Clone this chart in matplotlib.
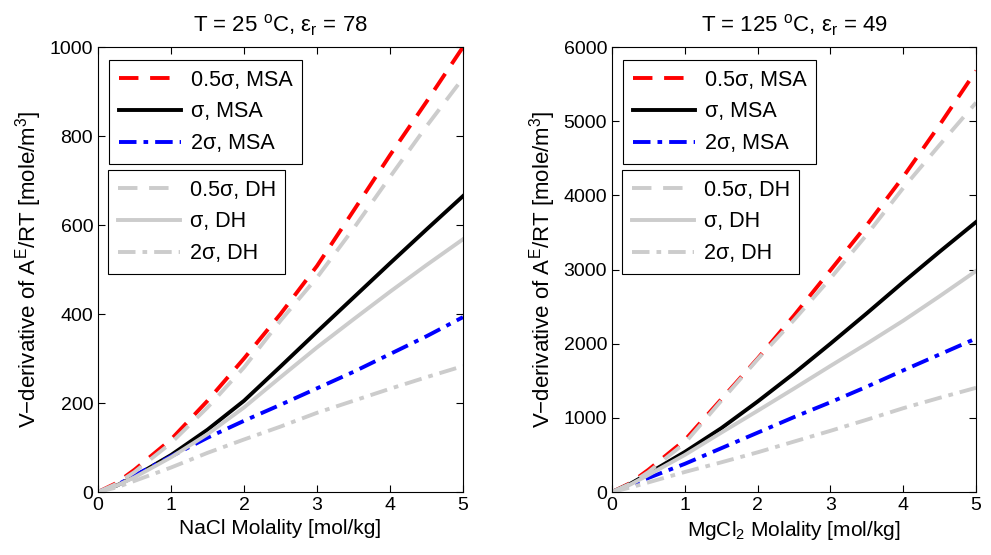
import matplotlib
matplotlib.use('Agg')
import matplotlib.pyplot as plt

plt.rcParams['font.family'] = ['Liberation Sans', 'DejaVu Sans']
plt.rcParams['mathtext.fontset'] = 'custom'
plt.rcParams['mathtext.rm'] = 'Liberation Sans'
plt.rcParams['mathtext.it'] = 'Liberation Sans:italic'
plt.rcParams['font.size'] = 14

# molality grid (mol/kg)
m = [0, 0.25, 0.5, 1, 1.5, 2, 2.5, 3, 3.5, 4, 4.5, 5]

# NaCl, T = 25 C
nacl_half_msa = [0, 20, 50, 118, 205, 300, 400, 508, 632, 757, 877, 1000]
nacl_one_msa = [0, 14, 35, 83, 140, 205, 282, 360, 437, 514, 590, 665]
nacl_two_msa = [0, 15, 37, 80, 122, 160, 196, 233, 270, 310, 350, 393]
nacl_half_dh = [0, 18, 45, 110, 190, 280, 385, 482, 592, 708, 822, 930]
nacl_one_dh = [0, 14, 33, 78, 130, 190, 258, 325, 388, 450, 510, 568]
nacl_two_dh = [0, 10, 25, 55, 88, 118, 147, 178, 205, 232, 258, 283]

# MgCl2, T = 125 C
mg_half_msa = [0, 120, 300, 700, 1250, 1800, 2380, 2990, 3600, 4250, 4950, 5680]
mg_one_msa = [0, 110, 250, 540, 860, 1220, 1600, 2000, 2410, 2830, 3240, 3640]
mg_two_msa = [0, 85, 190, 380, 590, 800, 1010, 1210, 1420, 1640, 1855, 2070]
mg_half_dh = [0, 110, 270, 660, 1230, 1790, 2320, 2880, 3470, 4100, 4680, 5250]
mg_one_dh = [0, 100, 230, 500, 800, 1095, 1395, 1700, 2000, 2310, 2640, 2980]
mg_two_dh = [0, 60, 130, 270, 400, 535, 680, 825, 975, 1130, 1270, 1405]

msa_labels = ['0.5σ, MSA', 'σ, MSA', '2σ, MSA']
dh_labels = ['0.5σ, DH', 'σ, DH', '2σ, DH']

grey = '#cccccc'
dash = (5, 3)
dashdot = (4.5, 1.8, 1.2, 1.8)
lw = 2.8

fig = plt.figure(figsize=(9.91, 5.55), dpi=100)
ax1 = fig.add_axes([0.0989, 0.1135, 0.3683, 0.8018])
ax2 = fig.add_axes([0.6176, 0.1135, 0.3673, 0.8018])

panels = [
    (ax1, [nacl_half_msa, nacl_one_msa, nacl_two_msa], [nacl_half_dh, nacl_one_dh, nacl_two_dh],
     1000, 200, 'T = 25 $^\\mathrm{o}$C, ε$_\\mathrm{r}$ = 78', 'NaCl Molality [mol/kg]'),
    (ax2, [mg_half_msa, mg_one_msa, mg_two_msa], [mg_half_dh, mg_one_dh, mg_two_dh],
     6000, 1000, 'T = 125 $^\\mathrm{o}$C, ε$_\\mathrm{r}$ = 49', 'MgCl$_2$ Molality [mol/kg]'),
]

for ax, msa, dh, ymax, ystep, title, xlabel in panels:
    h_msa = []
    h_msa += ax.plot(m, msa[0], color='red', lw=lw, dashes=dash, label=msa_labels[0])
    h_msa += ax.plot(m, msa[1], color='black', lw=lw, label=msa_labels[1])
    h_msa += ax.plot(m, msa[2], color='blue', lw=lw, dashes=dashdot, label=msa_labels[2])
    h_dh = []
    h_dh += ax.plot(m, dh[0], color=grey, lw=lw, dashes=dash, label=dh_labels[0])
    h_dh += ax.plot(m, dh[1], color=grey, lw=lw, label=dh_labels[1])
    h_dh += ax.plot(m, dh[2], color=grey, lw=lw, dashes=dashdot, label=dh_labels[2])

    ax.set_xlim(0, 5)
    ax.set_ylim(0, ymax)
    ax.set_xticks(range(0, 6))
    ax.set_yticks(range(0, ymax + 1, ystep))
    ax.tick_params(direction='in', top=True, right=True, length=5, width=0.8, labelsize=14)
    for s in ax.spines.values():
        s.set_linewidth(0.8)
    ax.set_title(title, fontsize=16, pad=11)
    ax.set_xlabel(xlabel, fontsize=15)
    ax.set_ylabel('V$-$derivative of A$^\\mathrm{E}$/RT [mole/m$^3$]', fontsize=16)

    leg_kw = dict(loc='upper left', fancybox=False, framealpha=1, edgecolor='black',
                  handlelength=2.9, handletextpad=0.45, labelspacing=0.5, borderpad=0.45,
                  borderaxespad=0, fontsize=15.5)
    leg1 = ax.legend(handles=h_msa, bbox_to_anchor=(0.03, 0.971), **leg_kw)
    leg1.get_frame().set_linewidth(0.8)
    ax.add_artist(leg1)
    leg2 = ax.legend(handles=h_dh, bbox_to_anchor=(0.027, 0.724), **leg_kw)
    leg2.get_frame().set_linewidth(0.8)

fig.savefig('out.png', dpi=100)
